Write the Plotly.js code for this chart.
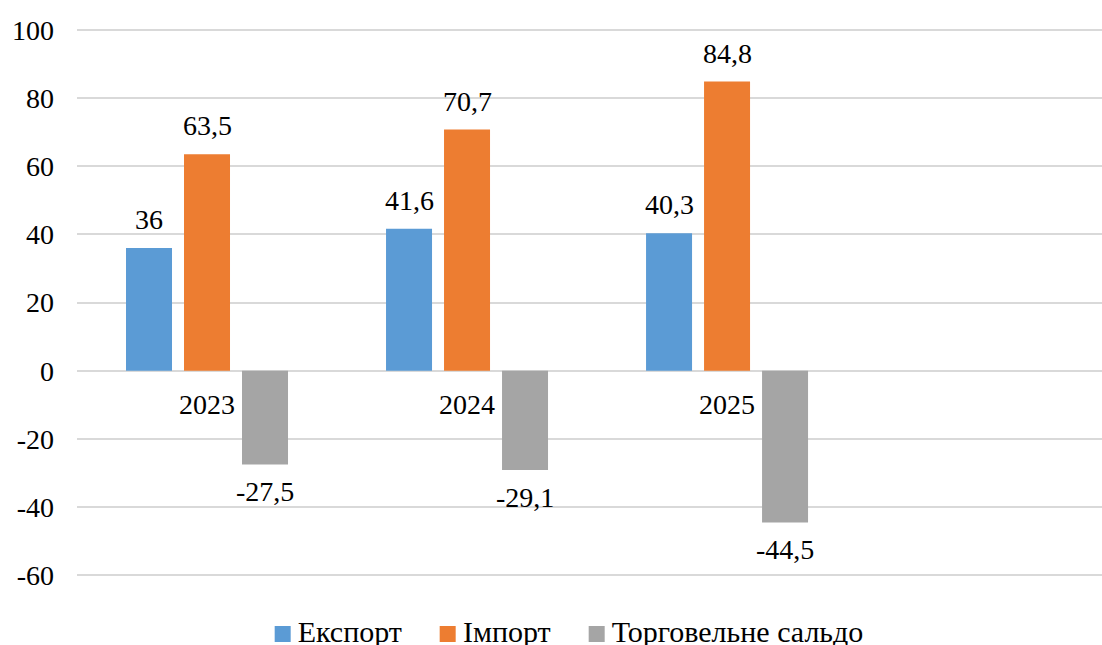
<!DOCTYPE html>
<html>
<head>
<meta charset="utf-8">
<script src="https://cdn.plot.ly/plotly-3.0.1.min.js"></script>
<style>
html,body{margin:0;padding:0;background:#fff;font-family:'Liberation Serif';width:1102px;height:645px;overflow:hidden;}
#chart{position:absolute;top:0;left:0;width:1102px;height:645px;}
#legend{position:absolute;top:617px;left:569px;transform:translateX(-50%);display:flex;align-items:center;white-space:nowrap;font-family:'Liberation Serif';font-size:30px;line-height:30px;color:#000;z-index:2;}
#legend .item{display:flex;align-items:center;margin:0 19px;}
#legend .sw{width:16px;height:16px;margin-right:7px;margin-top:4px;}
svg text{font-family:'Liberation Serif' !important;}
</style>
</head>
<body>
<div id="legend"></div>
<div id="chart"></div>
<script>
const years = ['2023', '2024', '2025'];
const exportVals = [36, 41.6, 40.3];
const importVals = [63.5, 70.7, 84.8];
const balanceVals = [-27.5, -29.1, -44.5];
const seriesNames = ['Експорт', 'Імпорт', 'Торговельне сальдо'];
const seriesColors = ['#5b9bd5', '#ed7d31', '#a5a5a5'];
const yTicks = [-60, -40, -20, 0, 20, 40, 60, 80, 100];

const FONT = 'Liberation Serif';
const allSeries = [exportVals, importVals, balanceVals];
const fmt = v => String(v).replace('.', ',');

// legend (real text) built from the series arrays
const legendEl = document.getElementById('legend');
seriesNames.forEach((name, i) => {
  const item = document.createElement('div');
  item.className = 'item';
  const sw = document.createElement('span');
  sw.className = 'sw';
  sw.style.background = seriesColors[i];
  const tx = document.createElement('span');
  tx.textContent = name;
  item.appendChild(sw);
  item.appendChild(tx);
  legendEl.appendChild(item);
});

const traces = allSeries.map((vals, i) => ({
  type: 'bar',
  name: seriesNames[i],
  x: years,
  y: vals,
  marker: {color: seriesColors[i]},
  hoverinfo: 'skip'
}));

const slotPx = 58;
const annotations = [];
allSeries.forEach((vals, i) => {
  vals.forEach((v, j) => {
    annotations.push({
      x: j, y: v, xref: 'x', yref: 'y',
      text: fmt(v), showarrow: false,
      xshift: (i - 1) * slotPx,
      yanchor: v >= 0 ? 'bottom' : 'top',
      yshift: v >= 0 ? 11 : -10
    });
  });
});

const layout = {
  width: 1102, height: 645,
  margin: {l: 77, r: 0, t: 28.3, b: 68.3},
  paper_bgcolor: 'rgba(0,0,0,0)', plot_bgcolor: 'rgba(0,0,0,0)',
  font: {family: FONT, size: 28, color: '#000'},
  barmode: 'group',
  bargap: 0.3308,
  bargroupgap: 0.207,
  showlegend: false,
  xaxis: {
    type: 'category',
    range: [-0.5, 3.442],
    anchor: 'free',
    position: (0 - (-60.5)) / 161,
    showgrid: false, zeroline: false, showline: false,
    ticks: '', ticklabelstandoff: 14,
    fixedrange: true
  },
  yaxis: {
    range: [-60.5, 100.5],
    tickvals: yTicks,
    ticktext: yTicks.map(String),
    showgrid: true, gridcolor: '#d9d9d9', gridwidth: 2,
    zeroline: true, zerolinecolor: '#d9d9d9', zerolinewidth: 2,
    showline: false, ticks: '', ticklabelstandoff: 22,
    fixedrange: true
  },
  annotations: annotations
};

Plotly.newPlot('chart', traces, layout, {displayModeBar: false});
</script>
</body>
</html>
